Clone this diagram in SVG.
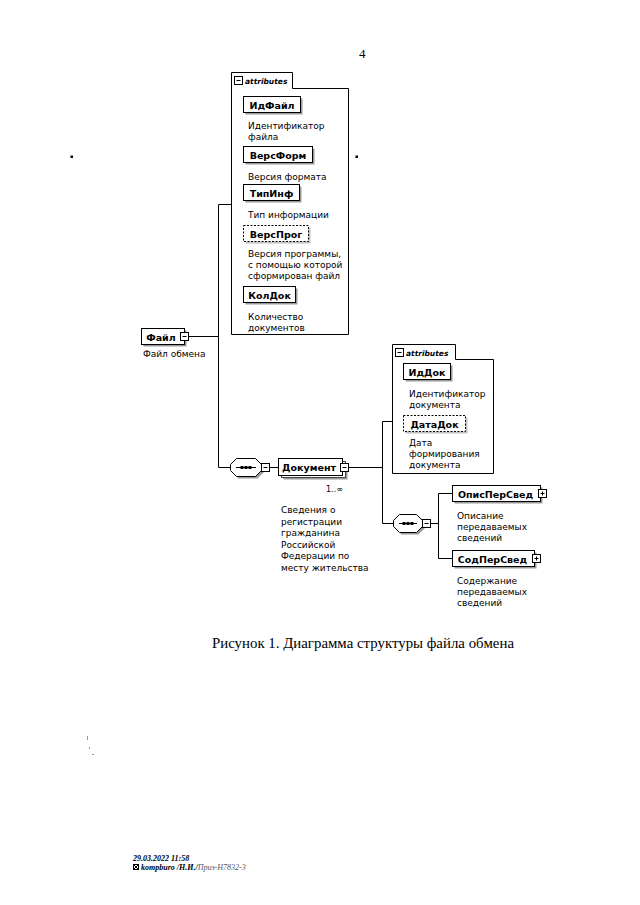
<svg xmlns="http://www.w3.org/2000/svg" width="640" height="905" viewBox="0 0 640 905">
<style>
.bg{fill:#fff}
.box{fill:#fff;stroke:#000;stroke-width:1}
.dash{fill:#fff;stroke:#000;stroke-width:1;stroke-dasharray:2,1.5}
.sh{fill:#9a9a9a}
.ln{stroke:#000;stroke-width:1;fill:none}
.name{font-family:"DejaVu Sans",sans-serif;font-weight:bold;font-size:9.5px;text-anchor:middle;fill:#000}
.desc{font-family:"DejaVu Sans",sans-serif;font-size:9px;fill:#000}
.attr{font-family:"DejaVu Sans",sans-serif;font-weight:bold;font-style:italic;font-size:7.5px;fill:#000}
.occ{font-family:"DejaVu Sans",sans-serif;font-size:8px;fill:#000}
.cap{font-family:"Liberation Serif","Times New Roman",serif;font-size:15.5px;fill:#000}
.pg{font-family:"Liberation Serif","Times New Roman",serif;font-size:13px;fill:#000}
.ft{font-family:"Liberation Serif","Times New Roman",serif;font-size:8px;font-style:italic;font-weight:bold;fill:#000}
</style>
<rect class="bg" x="0" y="0" width="640" height="905"/>

<text class="pg" x="359" y="58">4</text>
<rect x="70.5" y="155.5" width="2.5" height="2.5" fill="#000"/>
<rect x="355.5" y="155.5" width="2.5" height="2.5" fill="#000"/>
<rect x="87" y="736" width="1" height="4" fill="#999"/>
<rect x="89" y="747" width="1" height="2" fill="#999"/>
<rect x="92" y="754" width="2" height="1" fill="#999"/>

<g id="connectors">
  <path class="ln" d="M188.5,336.5 H218.5 M218.5,204.5 V467.5 M218.5,204.5 H231.5 M218.5,467.5 H230.5"/>
  <path class="ln" d="M269.5,467.5 H278.5"/>
  <path class="ln" d="M348.5,467.5 H382.5 M382.5,421.5 V523.5 M382.5,421.5 H392.5 M382.5,523.5 H393.5"/>
  <path class="ln" d="M430.5,523.5 H438.5 M438.5,493.5 V558.5 M438.5,493.5 H452.5 M438.5,558.5 H452.5"/>
</g>

<g id="attributes1">
  <path class="box" d="M231.5,72.5 H292.5 V88.5 H348.5 V334.5 H231.5 Z"/>
  <rect class="box" x="234.5" y="76.5" width="8" height="8"/>
  <path class="ln" d="M236.5,80.5 H240.5"/>
  <text class="attr" x="245" y="83.5">attributes</text>
</g>

<g id="IdFile">
  <rect class="sh" x="245.5" y="98.5" width="57" height="16"/>
  <rect class="box" x="243.5" y="96.5" width="57" height="16"/>
  <text class="name" x="272" y="108.5">ИдФайл</text>
  <text class="desc" x="248" y="128.5">Идентификатор</text>
  <text class="desc" x="248" y="139.5">файла</text>
</g>
<g id="VersForm">
  <rect class="sh" x="245.5" y="148.5" width="69" height="16"/>
  <rect class="box" x="243.5" y="146.5" width="69" height="16"/>
  <text class="name" x="278" y="158.5">ВерсФорм</text>
  <text class="desc" x="248" y="179.5">Версия формата</text>
</g>
<g id="TipInf">
  <rect class="sh" x="245.5" y="186.5" width="56" height="16"/>
  <rect class="box" x="243.5" y="184.5" width="56" height="16"/>
  <text class="name" x="271.5" y="196.5">ТипИнф</text>
  <text class="desc" x="248" y="218">Тип информации</text>
</g>
<g id="VersProg">
  <rect class="sh" x="245.5" y="227.5" width="65" height="16" opacity="0.6"/>
  <rect class="dash" x="243.5" y="225.5" width="65" height="16"/>
  <text class="name" x="276" y="237.5">ВерсПрог</text>
  <text class="desc" x="248" y="257">Версия программы,</text>
  <text class="desc" x="248" y="268">с помощью которой</text>
  <text class="desc" x="248" y="279">сформирован файл</text>
</g>
<g id="KolDok">
  <rect class="sh" x="245.5" y="288.5" width="52" height="16"/>
  <rect class="box" x="243.5" y="286.5" width="52" height="16"/>
  <text class="name" x="269.5" y="298.5">КолДок</text>
  <text class="desc" x="248" y="320">Количество</text>
  <text class="desc" x="248" y="331">документов</text>
</g>

<g id="File">
  <rect class="sh" x="143.5" y="330.5" width="43" height="16"/>
  <rect class="box" x="141.5" y="328.5" width="43" height="16"/>
  <rect class="box" x="180.5" y="332.5" width="8" height="8"/>
  <path class="ln" d="M182.5,336.5 H186.5"/>
  <text class="name" x="161" y="340.5">Файл</text>
  <text class="desc" x="143" y="357">Файл обмена</text>
</g>

<g id="sequence1">
  <path class="sh" d="M238.5,460.5 H257.5 L263.5,466.5 V472.5 L257.5,478.5 H238.5 L232.5,472.5 V466.5 Z"/>
  <path class="box" d="M236.5,458.5 H255.5 L261.5,464.5 V470.5 L255.5,476.5 H236.5 L230.5,470.5 V464.5 Z"/>
  <path class="ln" d="M236,467.5 H256"/>
  <rect x="240.5" y="466" width="3" height="3" fill="#000"/>
  <rect x="244.5" y="466" width="3" height="3" fill="#000"/>
  <rect x="248.5" y="466" width="3" height="3" fill="#000"/>
  <rect class="box" x="261.5" y="463.5" width="8" height="8"/>
  <path class="ln" d="M263.5,467.5 H267.5"/>
</g>

<g id="Dokument">
  <rect class="sh" x="283.5" y="463.5" width="64" height="16"/>
  <rect class="box" x="281.5" y="461.5" width="64" height="16" style="stroke:#444"/>
  <rect class="box" x="278.5" y="458.5" width="64" height="17"/>
  <rect class="box" x="340.5" y="463.5" width="8" height="8"/>
  <path class="ln" d="M342.5,467.5 H346.5"/>
  <text class="name" x="309" y="471">Документ</text>
  <text class="occ" x="326" y="492">1..∞</text>
  <text class="desc" x="281" y="513">Сведения о</text>
  <text class="desc" x="281" y="524.5">регистрации</text>
  <text class="desc" x="281" y="536">гражданина</text>
  <text class="desc" x="281" y="547.5">Российской</text>
  <text class="desc" x="281" y="559">Федерации по</text>
  <text class="desc" x="281" y="570.5">месту жительства</text>
</g>

<g id="attributes2">
  <path class="box" d="M392.5,344.5 H455.5 V359.5 H493.5 V473.5 H392.5 Z"/>
  <rect class="box" x="395.5" y="348.5" width="8" height="8"/>
  <path class="ln" d="M397.5,352.5 H401.5"/>
  <text class="attr" x="406" y="355.5">attributes</text>
</g>
<g id="IdDok">
  <rect class="sh" x="405.5" y="365.5" width="47" height="16"/>
  <rect class="box" x="403.5" y="363.5" width="47" height="16"/>
  <text class="name" x="427" y="375.5">ИдДок</text>
  <text class="desc" x="409" y="397">Идентификатор</text>
  <text class="desc" x="409" y="408">документа</text>
</g>
<g id="DataDok">
  <rect class="sh" x="405.5" y="417.5" width="62" height="16" opacity="0.6"/>
  <rect class="dash" x="403.5" y="415.5" width="62" height="16"/>
  <text class="name" x="434.5" y="427.5">ДатаДок</text>
  <text class="desc" x="409" y="446">Дата</text>
  <text class="desc" x="409" y="457">формирования</text>
  <text class="desc" x="409" y="468">документа</text>
</g>

<g id="sequence2">
  <path class="sh" d="M401.5,516.5 H418.5 L424.5,522.5 V528.5 L418.5,534.5 H401.5 L395.5,528.5 V522.5 Z"/>
  <path class="box" d="M399.5,514.5 H416.5 L422.5,520.5 V526.5 L416.5,532.5 H399.5 L393.5,526.5 V520.5 Z"/>
  <path class="ln" d="M399,523.5 H417"/>
  <rect x="402.5" y="522" width="3" height="3" fill="#000"/>
  <rect x="406.5" y="522" width="3" height="3" fill="#000"/>
  <rect x="410.5" y="522" width="3" height="3" fill="#000"/>
  <rect class="box" x="422.5" y="519.5" width="8" height="8"/>
  <path class="ln" d="M424.5,523.5 H428.5"/>
</g>

<g id="OpisPerSved">
  <rect class="sh" x="454.5" y="487.5" width="88" height="16"/>
  <rect class="box" x="452.5" y="485.5" width="88" height="16"/>
  <rect class="box" x="538.5" y="489.5" width="8" height="8"/>
  <path class="ln" d="M540.5,493.5 H544.5 M542.5,491.5 V495.5"/>
  <text class="name" x="495.5" y="497.5">ОписПерСвед</text>
  <text class="desc" x="457" y="519">Описание</text>
  <text class="desc" x="457" y="530">передаваемых</text>
  <text class="desc" x="457" y="541">сведений</text>
</g>
<g id="SodPerSved">
  <rect class="sh" x="454.5" y="552.5" width="82" height="16"/>
  <rect class="box" x="452.5" y="550.5" width="82" height="16"/>
  <rect class="box" x="532.5" y="554.5" width="8" height="8"/>
  <path class="ln" d="M534.5,558.5 H538.5 M536.5,556.5 V560.5"/>
  <text class="name" x="492.5" y="562.5">СодПерСвед</text>
  <text class="desc" x="457" y="584">Содержание</text>
  <text class="desc" x="457" y="595">передаваемых</text>
  <text class="desc" x="457" y="606">сведений</text>
</g>

<text class="cap" x="212" y="648" textLength="302" lengthAdjust="spacingAndGlyphs">Рисунок 1. Диаграмма структуры файла обмена</text>

<g id="footer">
  <text class="ft" x="133" y="861">29.03.2022 11:58</text>
  <rect x="133.5" y="864.5" width="5" height="5" fill="none" stroke="#000" stroke-width="1"/>
  <path class="ln" d="M133.5,864.5 L138.5,869.5 M138.5,864.5 L133.5,869.5"/>
  <text class="ft" x="141" y="870">kompburo /Н.И./<tspan style="font-weight:normal;fill:#555">Приз-Н7832-3</tspan></text>
</g>
</svg>
